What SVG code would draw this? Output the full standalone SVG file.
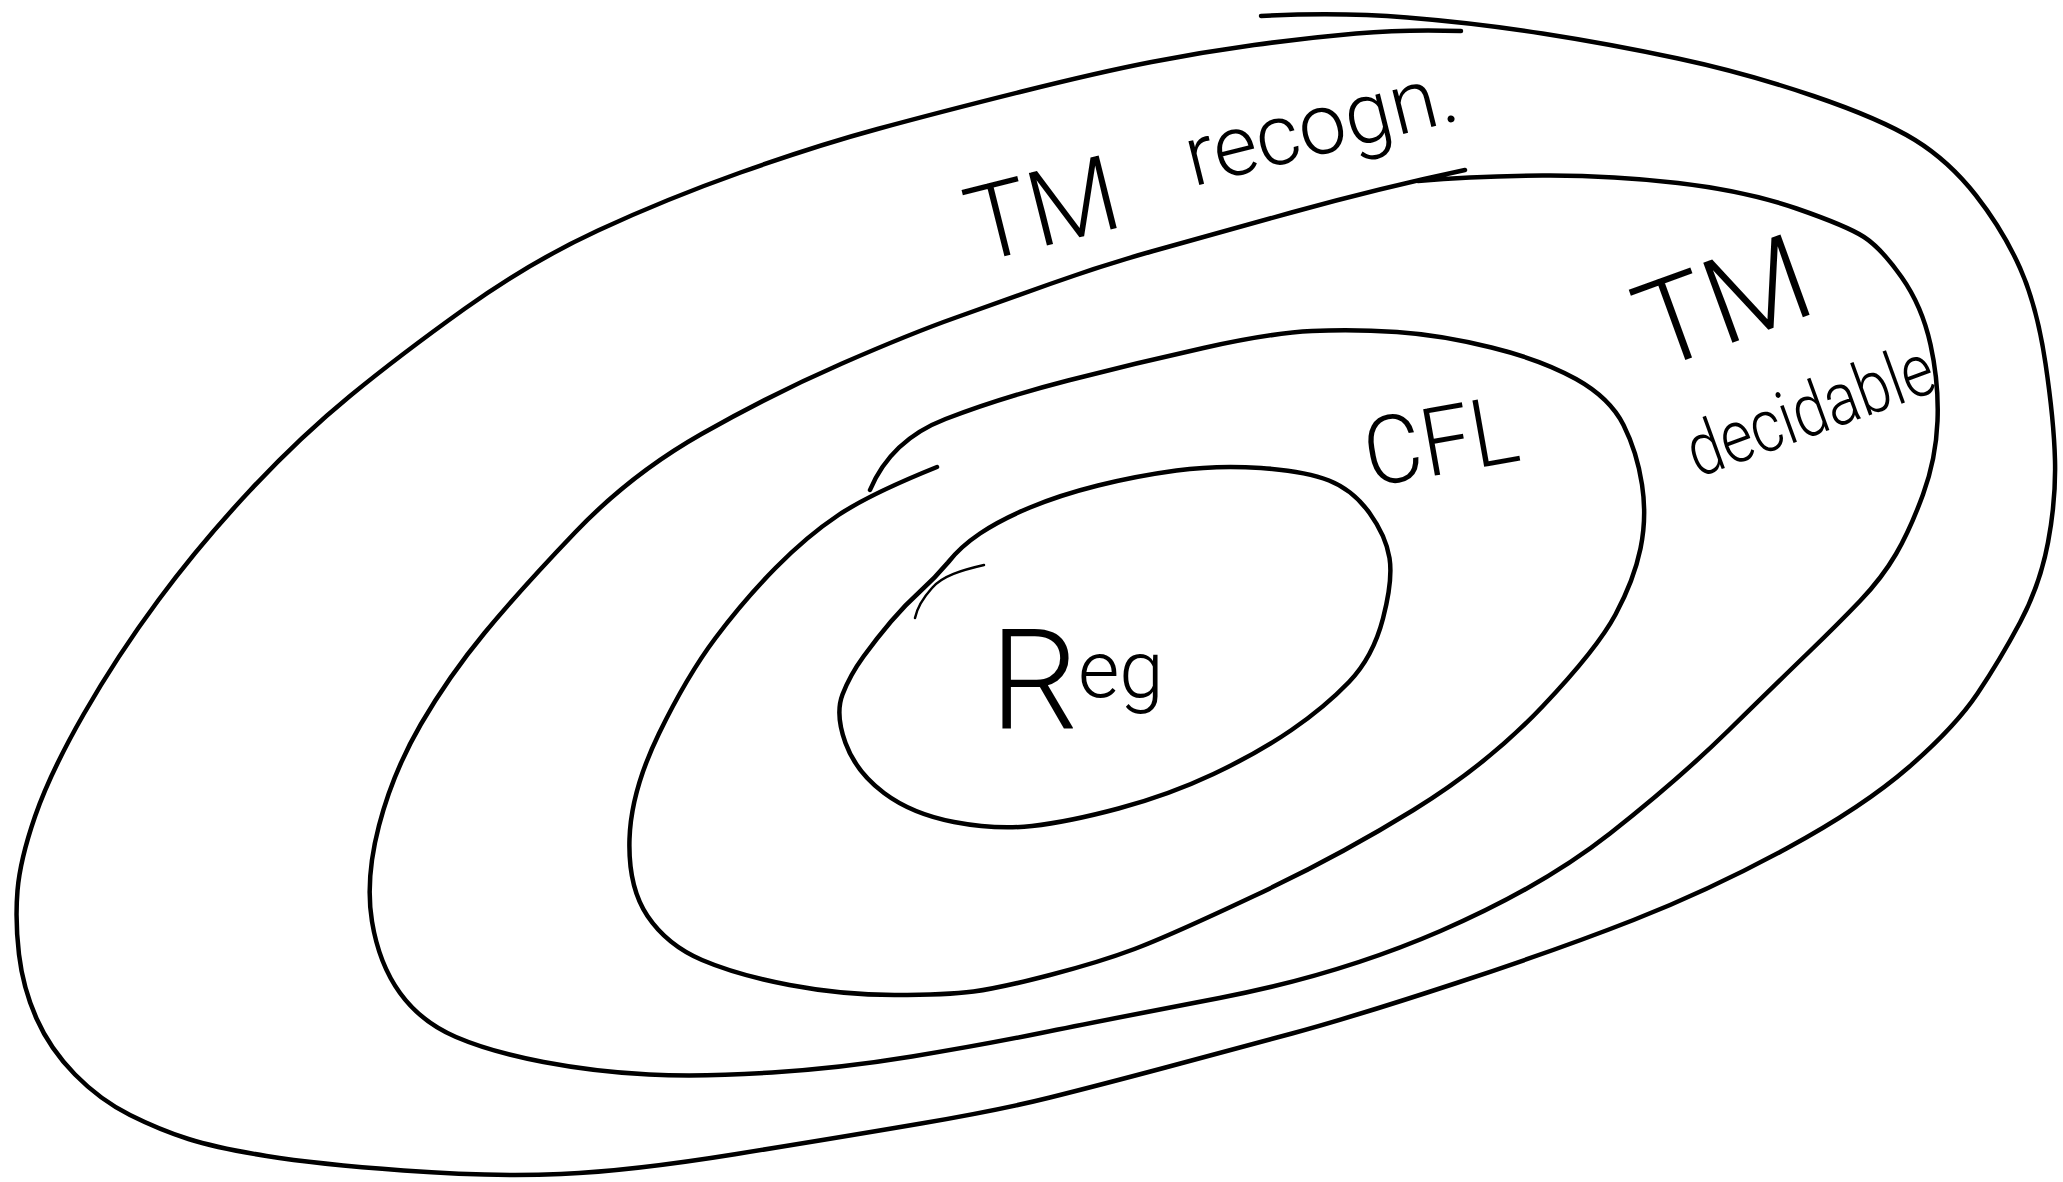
<svg xmlns="http://www.w3.org/2000/svg" width="2063" height="1182" viewBox="0 0 2063 1182">
<style>
.ring{fill:none;stroke:#000;stroke-width:4.5;stroke-linecap:round;stroke-linejoin:round}
.flick{fill:none;stroke:#000;stroke-width:2.5;stroke-linecap:round}
.label{font-family:Roboto,"Open Sans","DejaVu Sans",sans-serif;font-weight:300;fill:#000}
</style>
<rect width="2063" height="1182" fill="#fff"/>
<g id="tm-recognizable">
<path class="ring" d="M 1261,16 Q 1339,12 1407,17.5 Q 1475,23 1542.5,33.5 Q 1610,44 1678,58.5 Q 1746,73 1813.5,96 Q 1881,119 1915,140 Q 1949,161 1976,195.5 Q 2003,230 2020,268 Q 2037,306 2045.5,363.5 Q 2054,421 2055,460.5 Q 2056,500 2048,542.5 Q 2040,585 2020,622.5 Q 2000,660 1977.5,693.5 Q 1955,727 1909,767 Q 1863,807 1786.5,848.5 Q 1710,890 1633.5,920 Q 1557,950 1455,983.5 Q 1353,1017 1292,1033.5 Q 1231,1050 1165.5,1067.5 Q 1100,1085 1050,1097.5 Q 1000,1110 921,1123.5 Q 842,1137 736.5,1154 Q 631,1171 561,1174 Q 491,1177 403.5,1170.5 Q 316,1164 266.5,1156 Q 217,1148 188.5,1139 Q 160,1130 130,1115 Q 100,1100 75,1074.5 Q 50,1049 36.5,1018.5 Q 23,988 19,954.5 Q 15,921 17.5,890.5 Q 20,860 35,816.5 Q 50,773 83.5,714.5 Q 117,656 158.5,600 Q 200,544 250,490.5 Q 300,437 350,396 Q 400,355 465,308.5 Q 530,262 598,230.5 Q 666,199 740.5,172.5 Q 815,146 877.5,129 Q 940,112 1020,92 Q 1100,72 1151.5,62 Q 1203,52 1254,45 Q 1305,38 1356,33.5 Q 1407,29 1461,31"/>
<text class="label" transform="translate(977,263) rotate(-14)"><tspan x="0" y="0" font-size="105">TM </tspan><tspan x="228" y="-22" font-size="85">recogn.</tspan></text>
</g>
<g id="tm-decidable">
<path class="ring" d="M 1418,181 Q 1475,176 1542.5,175.5 Q 1610,175 1678,183 Q 1746,191 1796.5,208.5 Q 1847,226 1864,237 Q 1881,248 1901.5,277 Q 1922,306 1930.5,344.5 Q 1939,383 1937.5,421 Q 1936,459 1923,494.5 Q 1910,530 1896,554 Q 1882,578 1860,601 Q 1838,624 1809,652 Q 1780,680 1729,730 Q 1678,780 1610,833.5 Q 1542,887 1440.5,931 Q 1339,975 1219.5,998 Q 1100,1021 1041,1033 Q 982,1045 912,1056.5 Q 842,1068 772,1072.5 Q 702,1077 649,1074.5 Q 596,1072 543.5,1062 Q 491,1052 456,1037 Q 421,1022 400,993 Q 379,964 372,921.5 Q 365,879 379,825.5 Q 393,772 421,724 Q 449,676 484.5,633 Q 520,590 575.5,532 Q 631,474 701.5,434 Q 772,394 842,363.5 Q 912,333 956,317.5 Q 1000,302 1050,284 Q 1100,266 1151.5,251.5 Q 1203,237 1291.5,212.5 Q 1380,188 1465,170"/>
<text class="label" transform="translate(1655,371) rotate(-20)"><tspan x="0" y="0" font-size="120">TM</tspan><tspan x="3" y="115" font-size="74" textLength="258" lengthAdjust="spacingAndGlyphs">decidable</tspan></text>
</g>
<g id="cfl">
<path class="ring" d="M 937,467 Q 870,494 838.5,515 Q 807,536 775.5,568 Q 744,600 715.5,638 Q 687,676 659,733.5 Q 631,791 629.5,839 Q 628,887 647.5,916 Q 667,945 702,960 Q 737,975 789.5,985 Q 842,995 894.5,995 Q 947,995 973.5,991.5 Q 1000,988 1050,975 Q 1100,962 1134.5,949 Q 1169,936 1254,896 Q 1339,856 1413.5,810 Q 1488,764 1542.5,706.5 Q 1597,649 1615.5,614.5 Q 1634,580 1640.5,548.5 Q 1647,517 1642,484.5 Q 1637,452 1623.5,425 Q 1610,398 1576,379 Q 1542,360 1491.5,347.5 Q 1441,335 1397,332 Q 1353,329 1312,331 Q 1271,333 1203.5,348 Q 1136,363 1068,380.5 Q 1000,398 945.5,419 Q 891,440 870,490"/>
<text class="label" transform="translate(1370,487) rotate(-10)" font-size="95" textLength="155" lengthAdjust="spacingAndGlyphs">CFL</text>
</g>
<g id="reg">
<path class="ring" d="M 1176.5,470.5 Q 1217,465 1261,468 Q 1305,471 1329,480.5 Q 1353,490 1369.5,513 Q 1386,536 1389.5,558 Q 1393,580 1383,618.5 Q 1373,657 1349,682 Q 1325,707 1291.5,730 Q 1258,753 1213.5,774 Q 1169,795 1118.5,808.5 Q 1068,822 1032,826 Q 996,830 954,822 Q 912,814 884,793 Q 856,772 845.5,743 Q 835,714 842.5,694.5 Q 850,675 863.5,656.5 Q 877,638 891,621.5 Q 905,605 920,591.5 Q 935,578 948,562.5 Q 960,547 980,533.5 Q 1000,520 1030,507.5 Q 1060,495 1098,485.5 Q 1136,476 1176.5,470.5 Z"/>
<path class="flick" d="M 984,565 C 962,570 942,576 932,588 C 923,598 917,608 915,618"/>
<text class="label"><tspan x="990" y="728" font-size="140">R</tspan><tspan x="1078" y="697" font-size="80">eg</tspan></text>
</g>
<g id="connectors"/>
</svg>
